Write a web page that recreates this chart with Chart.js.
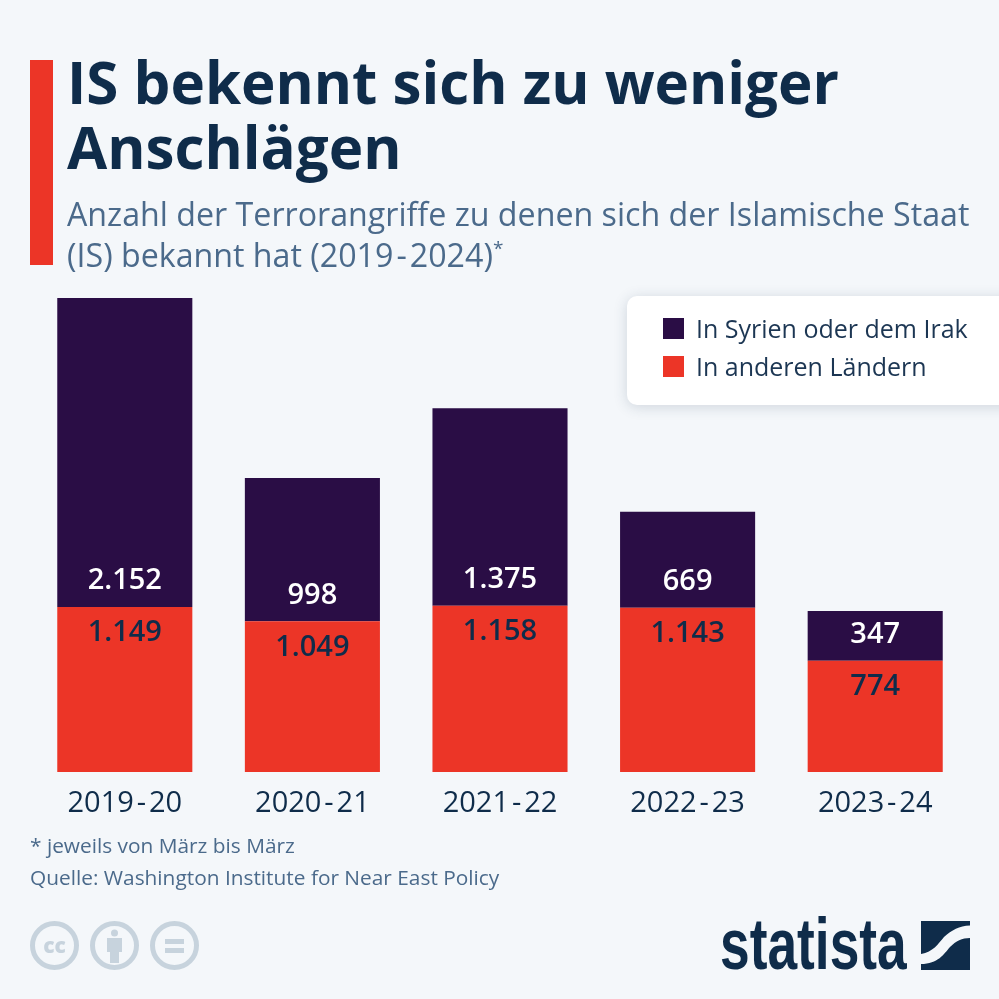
<!DOCTYPE html>
<html lang="de">
<head>
<meta charset="utf-8">
<title>IS bekennt sich zu weniger Anschlägen</title>
<script src="https://cdn.jsdelivr.net/npm/chart.js@4"></script>
<style>
  html, body { margin: 0; padding: 0; background: #f4f7fa; }
  #page { position: relative; width: 999px; height: 999px; overflow: hidden; background: #f4f7fa; font-family: "Open Sans", sans-serif; }
  #page > * { position: absolute; }
  #myChart { left: 0; top: 0; }
  #accent { left: 30px; top: 60px; width: 23px; height: 205px; background: #ec3527; }
  #title { left: 67px; top: 49px; margin: 0; font-size: 58.3px; line-height: 65px; font-weight: 700; color: #0f2c4a; white-space: nowrap; }
  #subtitle { left: 67px; top: 193px; margin: 0; font-size: 32.2px; line-height: 41px; color: #4b6a8b; white-space: nowrap; }
  #subtitle sup { font-size: 19px; line-height: 0; }
  #subtitle span { margin: 0 3px; }
  #legend { left: 627px; top: 296px; width: 400px; height: 109px; background: #fff; border-radius: 10px; box-shadow: 0 2px 14px rgba(40,60,90,.18); }
  .row { position: absolute; left: 36px; font-size: 25px; line-height: 38px; color: #1c3653; white-space: nowrap; }
  .row i { display: inline-block; width: 21px; height: 21px; margin-right: 12px; vertical-align: -1px; }
  #note { left: 30px; top: 829px; font-size: 20.85px; line-height: 32px; color: #4b6a8b; white-space: nowrap; }
  #cc { left: 30px; top: 921px; }
  #logo { left: 720px; top: 904px; font-family: "Liberation Sans", sans-serif; font-weight: 700; font-size: 73px; line-height: 80px; color: #0f2c4a; white-space: nowrap; transform-origin: left top; }
  #logomark { left: 921px; top: 921px; }
</style>
</head>
<body>
<div id="page">
  <canvas id="myChart" width="999" height="999"></canvas>
  <div id="accent"></div>
  <h1 id="title">IS bekennt sich zu weniger<br>Anschlägen</h1>
  <p id="subtitle">Anzahl der Terrorangriffe zu denen sich der Islamische Staat<br>(IS) bekannt hat (2019<span>-</span>2024)<sup>*</sup></p>
  <div id="legend"></div>
  <div id="note">* jeweils von März bis März<br>Quelle: Washington Institute for Near East Policy</div>
  <svg id="cc" width="170" height="50" viewBox="0 0 170 50">
    <g fill="none" stroke="#c7d3dd" stroke-width="5">
      <circle cx="24.5" cy="24.5" r="22"/><circle cx="84.5" cy="24.5" r="22"/><circle cx="144.5" cy="24.5" r="22"/>
    </g>
    <g fill="#c7d3dd">
      <text x="24.5" y="32" text-anchor="middle" font-family="Open Sans" font-weight="800" font-size="21">cc</text>
      <circle cx="84.5" cy="12" r="3.5"/>
      <path d="M77 17h15v14h-3v11h-9v-11h-3z"/>
      <rect x="135" y="18" width="19" height="5"/><rect x="135" y="27" width="19" height="5"/>
    </g>
  </svg>
  <div id="logo">statista</div>
  <svg id="logomark" width="49" height="49" viewBox="0 0 49 49">
    <path fill="#0f2c4a" d="M0 0H49V4.5C38 5 31 9 23 16C17 23 12 31 0 33Z"/>
    <path fill="#0f2c4a" d="M49 17C41 17 35 20 29 26C23 33 17 43 0 43V49H49Z"/>
  </svg>
</div>
<script>
// data
var categories = ['2019\u200A-\u200A20', '2020\u200A-\u200A21', '2021\u200A-\u200A22', '2022\u200A-\u200A23', '2023\u200A-\u200A24'];
var otherCountries = [1149, 1049, 1158, 1143, 774];
var syriaIraq = [2152, 998, 1375, 669, 347];
var labelOther = 'In anderen Ländern';
var labelSyria = 'In Syrien oder dem Irak';
var colorOther = '#ec3527';
var colorSyria = '#2a0d45';

// legend card
document.getElementById('legend').innerHTML =
    '<div class="row" style="top:13px"><i style="background:' + colorSyria + '"></i>' + labelSyria + '</div>' +
    '<div class="row" style="top:51px"><i style="background:' + colorOther + '"></i>' + labelOther + '</div>';

// squeeze the wordmark to its width in the logo
var logo = document.getElementById('logo');
logo.style.transform = 'scaleX(' + (187 / logo.offsetWidth) + ')';

// German thousands separator for the value labels
function formatValue(v) {
    return String(v).replace(/\B(?=(\d{3})+$)/g, '.');
}

// Value labels just inside the base of each segment
var valueLabels = {
    id: 'valueLabels',
    afterDatasetsDraw: function(chart) {
        var ctx = chart.ctx;
        ctx.save();
        ctx.font = '600 29px "Open Sans"';
        ctx.textAlign = 'center';
        ctx.textBaseline = 'middle';
        chart.data.datasets.forEach(function(ds, i) {
            chart.getDatasetMeta(i).data.forEach(function(bar, j) {
                ctx.fillStyle = i === 0 ? '#0f2c4a' : '#ffffff';
                // red segment: label hangs below its top edge; purple: sits above the shared edge
                var y = i === 0 ? bar.y + 26 : bar.base - 26;
                ctx.fillText(formatValue(ds.data[j]), bar.x, y);
            });
        });
        ctx.restore();
    }
};

var ctx = document.getElementById('myChart').getContext('2d');
var chart = new Chart(ctx, {
    type: 'bar',
    data: {
        labels: categories,
        datasets: [{
            label: labelOther,
            backgroundColor: colorOther,
            data: otherCountries
        }, {
            label: labelSyria,
            backgroundColor: colorSyria,
            data: syriaIraq
        }]
    },
    options: {
        responsive: false,
        animation: false,
        devicePixelRatio: 1,
        barPercentage: 0.72,
        categoryPercentage: 1,
        layout: { padding: { left: 31, right: 30, top: 298, bottom: 167 } },
        plugins: { legend: { display: false }, tooltip: { enabled: false } },
        scales: {
            x: {
                stacked: true,
                afterFit: function(scale) { scale.height = 60; },
                grid: { display: false },
                border: { display: false },
                ticks: {
                    color: '#0f2c4a',
                    font: { family: 'Open Sans', size: 29 },
                    padding: 6,
                    maxRotation: 0
                }
            },
            y: {
                stacked: true,
                display: false,
                min: 0,
                max: 3301
            }
        }
    },
    plugins: [valueLabels]
});
</script>
</body>
</html>
